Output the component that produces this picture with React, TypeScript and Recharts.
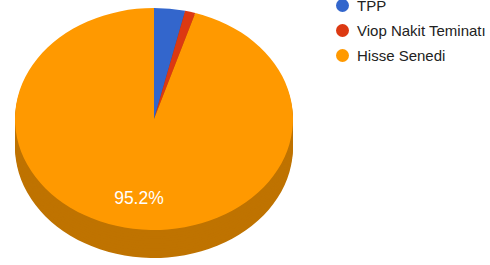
import React from 'react';
import { PieChart, Pie, Cell } from 'recharts';

const categories = ['TPP', 'Viop Nakit Teminatı', 'Hisse Senedi'];
const values = [3.6, 1.2, 95.2];
const colors = ['#3366CC', '#DC3912', '#FF9900'];
const sideColors = ['#264D99', '#A52B0E', '#BF7300'];
const legendY = [5, 30, 55];

const data = categories.map((name, i) => ({ name, value: values[i] }));

const RX = 139;
const RY = 111;
const S = RY / RX;
const CX = 154;
const CY = 119;
const DEPTH = 28;
const cyTop = CY / S;
const depthU = DEPTH / S;
const sideOffsets: number[] = [];
for (let d = depthU; d > 0; d -= 3) sideOffsets.push(d);

const FONT = "Arial, 'Liberation Sans', sans-serif";

const renderLabel = (props: any) => {
  const { cx, cy, midAngle, outerRadius, percent } = props;
  if (percent < 0.05) return null;
  const RAD = Math.PI / 180;
  const r = outerRadius * 0.72;
  const x = cx + r * Math.cos(-midAngle * RAD);
  const y = cy + r * Math.sin(-midAngle * RAD);
  return (
    <g transform={`translate(${x},${y}) scale(1,${1 / S})`}>
      <text
        x={0}
        y={0}
        textAnchor="middle"
        dominantBaseline="central"
        fill="#ffffff"
        fontSize={17.5}
        fontFamily={FONT}
      >
        {(percent * 100).toFixed(1)}%
      </text>
    </g>
  );
};

export default function App() {
  return (
    <div
      style={{
        position: 'absolute',
        left: 0,
        top: 0,
        width: 490,
        height: 265,
        overflow: 'hidden',
        background: '#ffffff',
      }}
    >
      <div
        style={{
          position: 'absolute',
          left: 0,
          top: 0,
          transform: `scaleY(${S})`,
          transformOrigin: '0 0',
        }}
      >
        <PieChart width={310} height={340} margin={{ top: 0, right: 0, bottom: 0, left: 0 }}>
          {sideOffsets.map((off, k) => (
            <Pie
              key={`side-${k}`}
              data={data}
              dataKey="value"
              nameKey="name"
              cx={CX}
              cy={cyTop + off}
              outerRadius={RX}
              startAngle={90}
              endAngle={-270}
              stroke="none"
              isAnimationActive={false}
              label={false}
              labelLine={false}
            >
              {data.map((_, i) => (
                <Cell key={i} fill={sideColors[i]} />
              ))}
            </Pie>
          ))}
          <Pie
            data={data}
            dataKey="value"
            nameKey="name"
            cx={CX}
            cy={cyTop}
            outerRadius={RX}
            startAngle={90}
            endAngle={-270}
            stroke="none"
            isAnimationActive={false}
            label={renderLabel}
            labelLine={false}
          >
            {data.map((_, i) => (
              <Cell key={i} fill={colors[i]} />
            ))}
          </Pie>
        </PieChart>
      </div>
      {categories.map((name, i) => (
        <div
          key={name}
          style={{
            position: 'absolute',
            left: 336,
            top: legendY[i] - 10,
            height: 20,
            display: 'flex',
            alignItems: 'center',
            whiteSpace: 'nowrap',
            fontFamily: FONT,
            fontSize: 15,
            color: '#222222',
          }}
        >
          <span
            style={{
              display: 'inline-block',
              width: 13,
              height: 13,
              borderRadius: '50%',
              background: colors[i],
              marginRight: 8,
            }}
          />
          <span>{name}</span>
        </div>
      ))}
    </div>
  );
}
